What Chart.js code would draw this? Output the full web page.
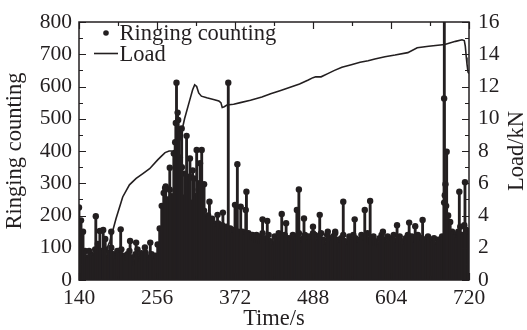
<!DOCTYPE html>
<html>
<head>
<meta charset="utf-8">
<script src="https://cdn.jsdelivr.net/npm/chart.js@4.4.0/dist/chart.umd.min.js"></script>
<style>
  html, body { margin: 0; padding: 0; background: #fff; }
</style>
</head>
<body>
<canvas id="aeChart" width="527" height="330"></canvas>
<script>
const ink = '#231f20';
const serif = "'Liberation Serif', 'Times New Roman', serif";

// axis ticks
const xTicks = [140, 256, 372, 488, 604, 720];
const xMinor = [198, 314, 430, 546, 662];
const yTicks = [0, 100, 200, 300, 400, 500, 600, 700, 800];
const yMinor = [50, 150, 250, 350, 450, 550, 650, 750];
const loadTicks = [0, 2, 4, 6, 8, 10, 12, 14, 16];
const loadMinor = [1, 3, 5, 7, 9, 11, 13, 15];

// ringing counting, dense background hits sampled every 3 s from 140 s
const baseStart = 140;
const baseStep = 3;
const baseCounts = [
  225, 185, 150, 90, 70, 90, 80, 75, 95, 85,
  70, 90, 80, 95, 70, 85, 100, 80, 65, 90,
  85, 95, 75, 60, 80, 90, 70, 55, 80, 95,
  65, 75, 60, 85, 70, 55, 80, 65, 75, 110,
  160, 230, 270, 290, 250, 280, 260, 240, 275, 250,
  265, 240, 255, 230, 245, 225, 240, 215, 230, 210,
  225, 205, 215, 195, 200, 185, 190, 175, 165, 175,
  160, 170, 155, 165, 150, 160, 145, 155, 140, 150,
  135, 150, 140, 130, 145, 135, 140, 125, 140, 120,
  135, 145, 115, 130, 140, 120, 110, 135, 125, 145,
  120, 135, 140, 115, 130, 120, 140, 135, 125, 145,
  115, 130, 140, 120, 135, 125, 145, 140, 120, 135,
  145, 125, 110, 140, 130, 120, 135, 145, 125, 115,
  130, 140, 120, 110, 135, 125, 140, 130, 115, 125,
  140, 120, 130, 145, 125, 115, 135, 120, 110, 130,
  140, 125, 115, 135, 120, 130, 140, 115, 125, 135,
  120, 110, 130, 140, 125, 135, 115, 125, 140, 120,
  130, 110, 125, 135, 115, 120, 130, 110, 125, 120,
  135, 240, 230, 200, 180, 150, 140, 130, 150, 165,
  140, 170, 155, 140
];

// isolated taller hits
const peakTimes = [
  165, 168, 171, 176, 179, 188, 202, 216, 225, 233, 238, 246,
  268, 275, 281, 283, 284, 285, 286.7, 287.5, 289, 290, 292.7, 293, 297, 300, 304, 305, 309, 311, 313, 315, 318, 319, 320, 322.5, 326, 334,
  346, 354, 362, 372, 375.5, 380.5, 388, 389, 413, 420, 441.5, 448, 456, 464, 467, 474.6, 488, 498, 510, 521, 533, 550, 565, 573, 592, 613, 631, 640, 651, 659.5,
  683.3, 683, 684, 685, 686.8, 705.6, 714
];
const peakCounts = [
  198, 112, 152, 155, 127, 150, 157, 121, 116, 83, 101, 116,
  285, 348, 392, 427, 487, 612, 519, 496, 460, 380, 470, 350, 330, 447, 320, 377, 340, 315, 260, 403, 280, 300, 362, 403, 297, 243,
  202, 209, 612, 233, 359, 227, 217, 274, 188, 183, 205, 176, 129, 217, 281, 191, 165, 202, 150, 150, 243, 188, 217, 245, 150, 170, 178, 167, 186, 131,
  900, 563, 263, 297, 398, 274, 303
];

// load curve (kN)
const loadTimes = [
  140, 150, 160, 170, 180, 186, 195, 205, 215, 225, 235, 245, 257, 263, 268, 274, 280, 285,
  290, 297, 305, 309, 312, 315, 318, 322, 330, 340, 348, 351, 353, 356, 360, 370, 380, 395,
  412, 425, 440, 454, 468, 481, 488, 492, 500, 510, 520, 531, 545, 558, 570, 580, 595, 610,
  629, 643, 660, 684, 700, 709.6, 713, 714.5, 716, 717, 718.5, 720
];
const loadValues = [
  0.2, 0.5, 0.9, 1.3, 1.8, 2.4, 3.8, 5.15, 5.9, 6.3, 6.6, 6.9, 7.45, 7.7, 7.9, 8.0, 8.0, 8.1,
  8.7, 10.0, 11.2, 11.8, 12.1, 12.0, 11.6, 11.4, 11.3, 11.2, 11.1, 11.0, 10.7, 10.75, 10.85, 10.9, 11.0, 11.15,
  11.35, 11.55, 11.75, 11.95, 12.15, 12.4, 12.55, 12.6, 12.6, 12.8, 13.0, 13.2, 13.35, 13.5, 13.6, 13.7, 13.85, 13.95,
  14.1, 14.4, 14.5, 14.6, 14.8, 14.9, 14.85, 14.5, 13.8, 13.4, 12.9, 12.8
];

const ringing = [];
baseCounts.forEach((c, i) => ringing.push({ x: baseStart + i * baseStep, y: c }));
peakTimes.forEach((t, i) => ringing.push({ x: t, y: peakCounts[i] }));
const load = loadTimes.map((t, i) => ({ x: t, y: loadValues[i] }));

const tickFont = { family: serif, size: 21.5 };
const titleFont = { family: serif, size: 22.5, lineHeight: 1 };

// inward ticks, frame box, in-plot legend and the right axis title
const decorations = {
  id: 'decorations',
  afterDatasetsDraw(chart) {
    const { ctx, chartArea: a, scales } = chart;
    ctx.save();
    ctx.strokeStyle = ink;
    ctx.lineWidth = 1.2;
    ctx.beginPath();
    const vmark = (vals, len) => vals.forEach(v => {
      const x = Math.round(scales.x.getPixelForValue(v)) + 0.5;
      ctx.moveTo(x, a.bottom); ctx.lineTo(x, a.bottom - len);
      ctx.moveTo(x, a.top); ctx.lineTo(x, a.top + len);
    });
    const hmark = (scale, vals, len, left) => vals.forEach(v => {
      const y = Math.round(scale.getPixelForValue(v)) + 0.5;
      const x0 = left ? a.left : a.right;
      ctx.moveTo(x0, y); ctx.lineTo(left ? x0 + len : x0 - len, y);
    });
    vmark(xTicks, 7); vmark(xMinor, 4);
    hmark(scales.y, yTicks, 7, true); hmark(scales.y, yMinor, 4, true);
    hmark(scales.y2, loadTicks, 7, false); hmark(scales.y2, loadMinor, 4, false);
    ctx.stroke();

    ctx.lineWidth = 1.5;
    ctx.strokeRect(a.left, a.top, a.right - a.left, a.bottom - a.top);
    ctx.restore();
  },
  afterDraw(chart) {
    const { ctx } = chart;
    const ds = chart.data.datasets;
    ctx.save();
    ctx.fillStyle = ink;
    ctx.strokeStyle = ink;
    ctx.font = '22.5px ' + serif;
    ctx.textBaseline = 'alphabetic';

    ctx.beginPath();
    ctx.arc(106, 33, 2.8, 0, Math.PI * 2);
    ctx.fill();
    ctx.fillText(ds[1].label, 119.5, 40);

    ctx.lineWidth = 1.6;
    ctx.beginPath();
    ctx.moveTo(94, 53.5); ctx.lineTo(118, 53.5);
    ctx.stroke();
    ctx.fillText(ds[2].label, 119.5, 60.5);

    ctx.translate(523, 151);
    ctx.rotate(-Math.PI / 2);
    ctx.textAlign = 'center';
    ctx.fillText('Load/kN', 0, 0);
    ctx.restore();
  }
};

new Chart(document.getElementById('aeChart'), {
  type: 'bar',
  data: {
    datasets: [
      {
        type: 'bar',
        label: 'stems',
        data: ringing,
        backgroundColor: ink,
        barThickness: 2.2,
        grouped: false,
        yAxisID: 'y'
      },
      {
        type: 'line',
        label: 'Ringing counting',
        data: ringing,
        showLine: false,
        pointRadius: 3.2,
        pointBorderWidth: 0,
        pointBackgroundColor: ink,
        yAxisID: 'y'
      },
      {
        type: 'line',
        label: 'Load',
        data: load,
        borderColor: ink,
        borderWidth: 1.6,
        pointRadius: 0,
        tension: 0,
        yAxisID: 'y2'
      }
    ]
  },
  options: {
    responsive: false,
    animation: false,
    events: [],
    layout: { padding: { top: 22, left: 0, right: 0, bottom: 0 } },
    plugins: { legend: { display: false }, tooltip: { enabled: false } },
    scales: {
      x: {
        type: 'linear',
        offset: false,
        min: 140,
        max: 720,
        afterBuildTicks: s => { s.ticks = xTicks.map(v => ({ value: v })); },
        afterFit: s => { s.height = 50; },
        grid: { display: false, drawTicks: false },
        border: { display: false },
        ticks: { color: ink, font: tickFont, padding: 5, maxRotation: 0 },
        title: { display: true, text: 'Time/s', color: ink, font: titleFont, padding: { top: 0, bottom: 0 } }
      },
      y: {
        position: 'left',
        min: 0,
        max: 800,
        afterBuildTicks: s => { s.ticks = yTicks.map(v => ({ value: v })); },
        afterFit: s => { s.width = 79; },
        grid: { display: false, drawTicks: false },
        border: { display: false },
        ticks: { color: ink, font: tickFont, padding: 7 },
        title: { display: true, text: 'Ringing counting', color: ink, font: titleFont, padding: { top: 4, bottom: 0 } }
      },
      y2: {
        position: 'right',
        min: 0,
        max: 16,
        afterBuildTicks: s => { s.ticks = loadTicks.map(v => ({ value: v })); },
        afterFit: s => { s.width = 58; },
        grid: { display: false, drawTicks: false },
        border: { display: false },
        ticks: { color: ink, font: tickFont, padding: 9 }
      }
    }
  },
  plugins: [decorations]
});
</script>
</body>
</html>
